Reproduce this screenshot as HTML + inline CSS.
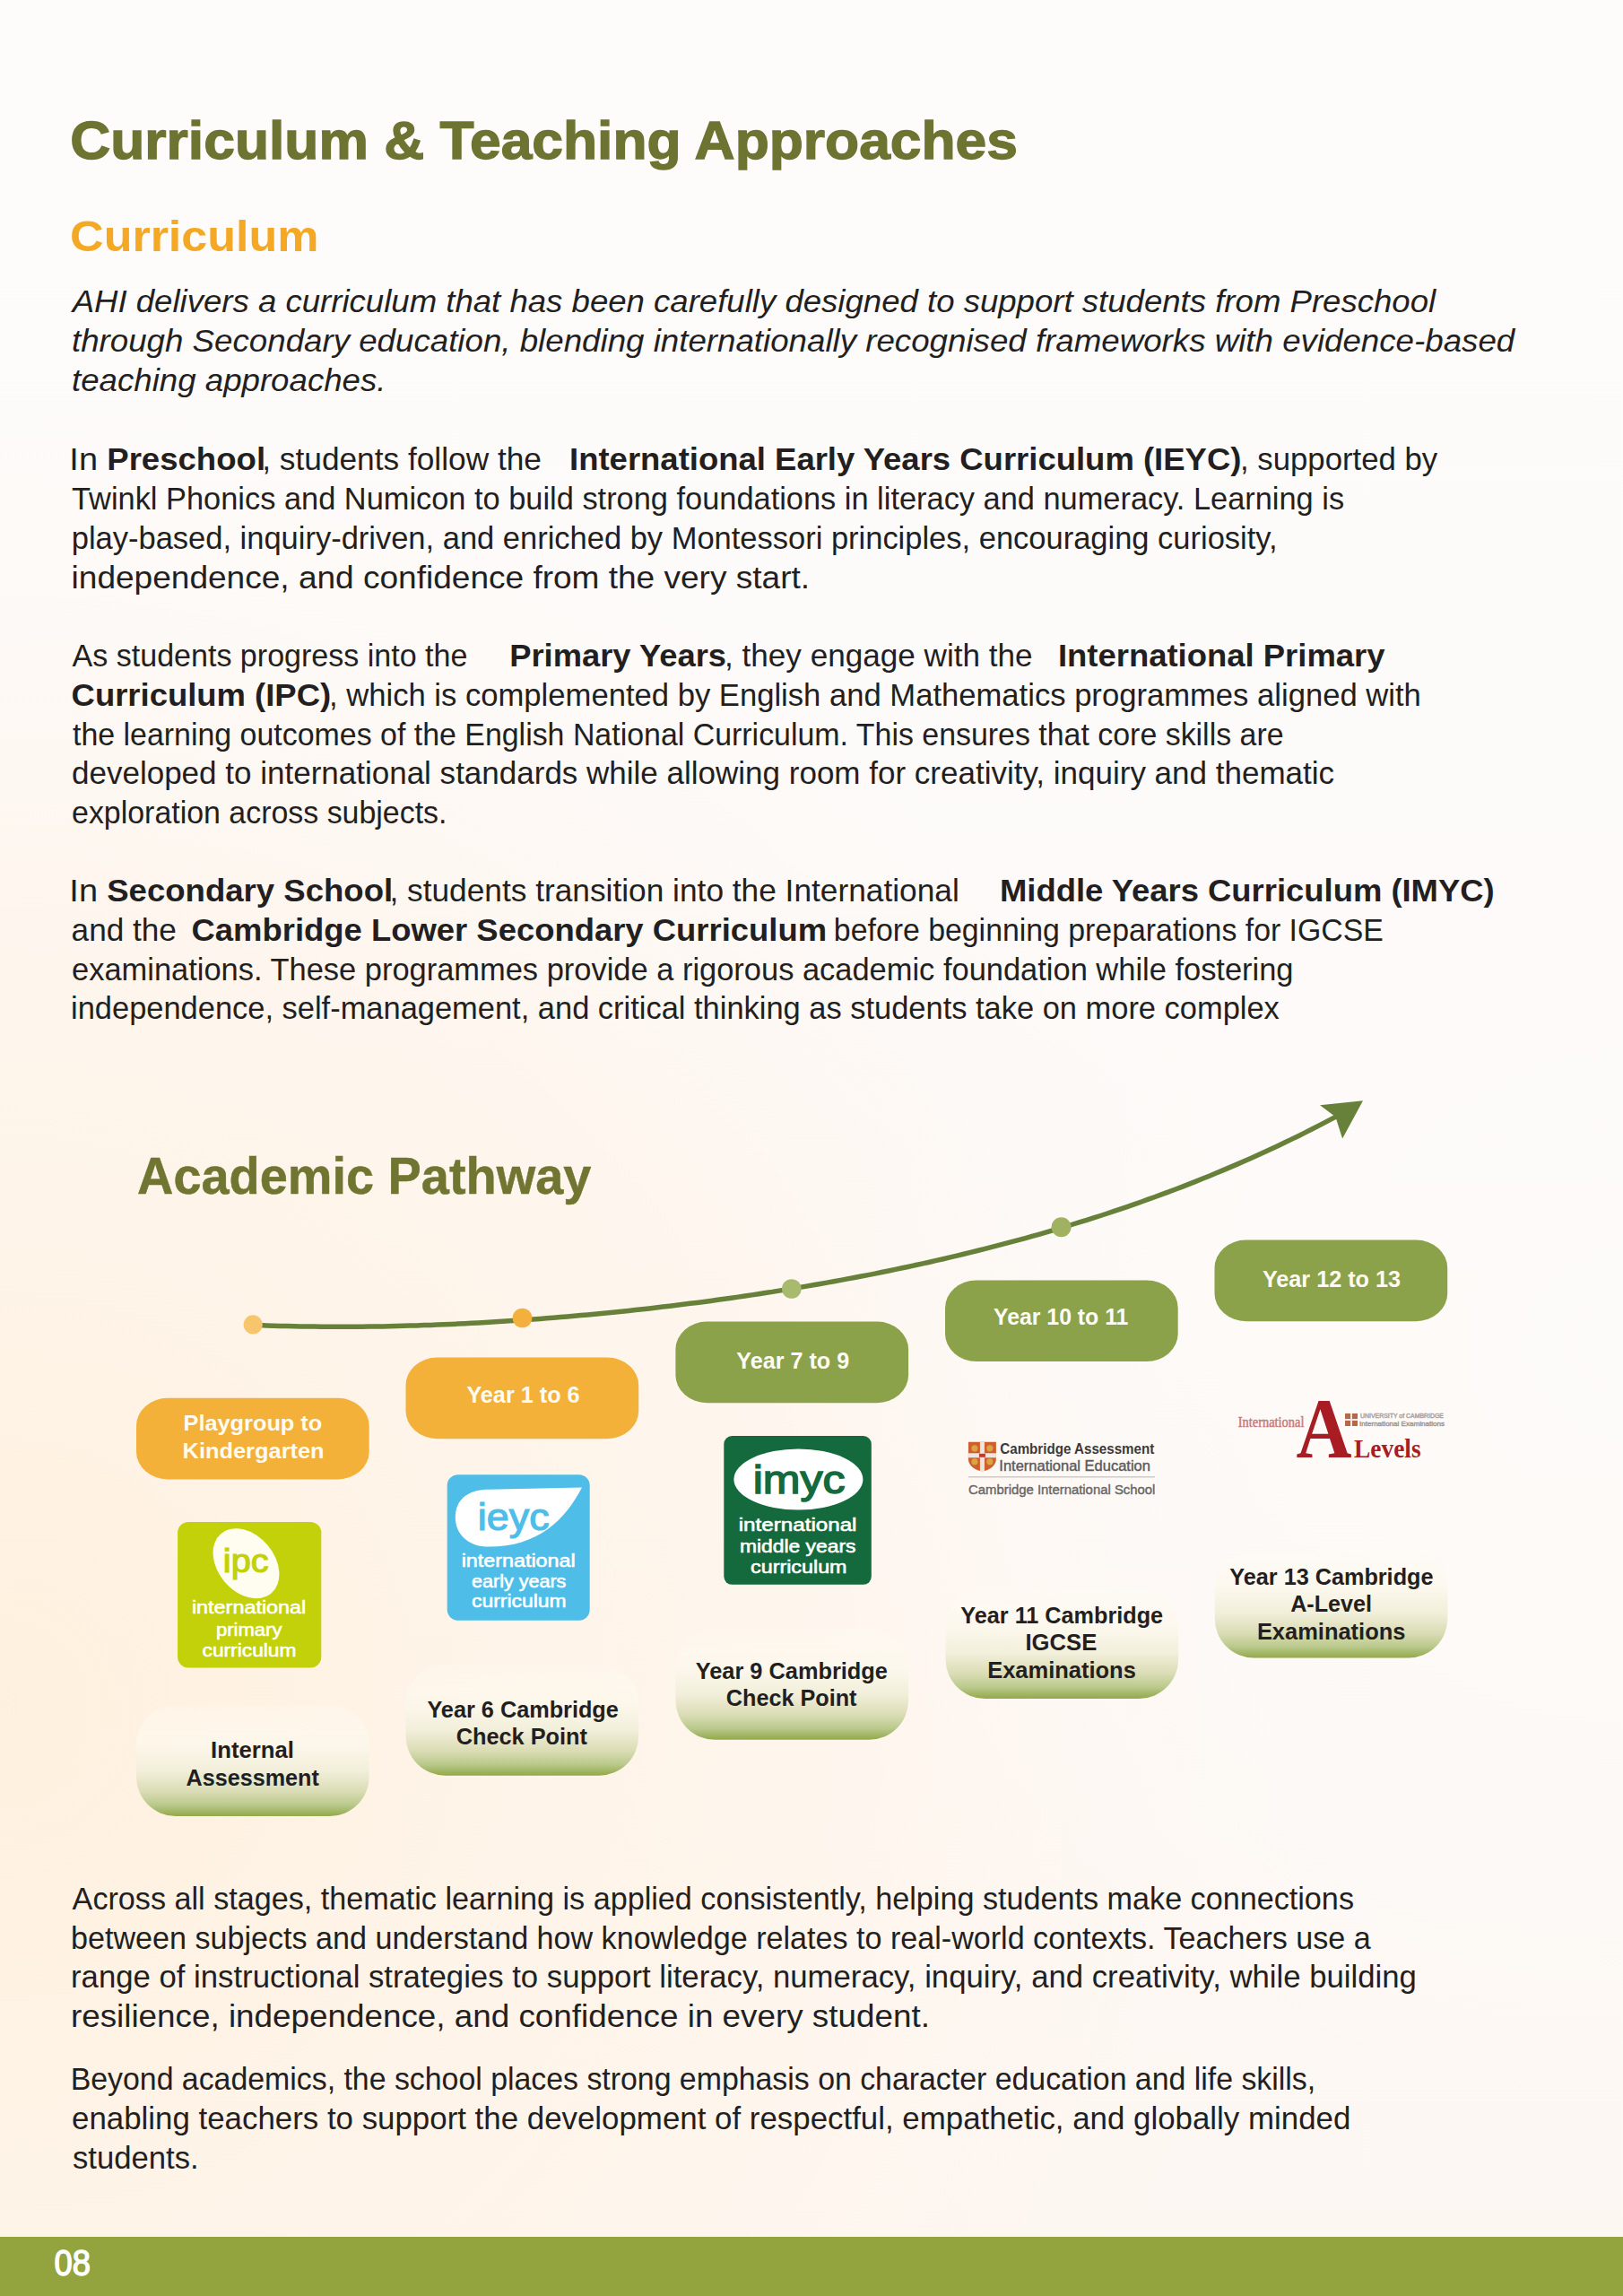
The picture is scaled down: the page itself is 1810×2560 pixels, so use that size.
<!DOCTYPE html>
<html>
<head>
<meta charset="utf-8">
<style>
html,body{margin:0;padding:0;width:1810px;height:2560px;overflow:hidden;}
body{position:relative;font-family:"Liberation Sans",sans-serif;background:#fdf8f4;}
svg{position:absolute;left:0;top:0;}
text{font-family:"Liberation Sans",sans-serif;}
.R{font-size:35px;fill:#231f20;}
.B{font-size:35.5px;font-weight:bold;fill:#231f20;}
.I{font-size:35.5px;font-style:italic;fill:#231f20;}
.H{font-size:35.5px;fill:#231f20;}
.T{font-size:26px;font-weight:bold;fill:#fffbf2;}
.T2{font-size:23.3px;font-weight:bold;fill:#fffbf2;}
.K{font-size:25px;font-weight:bold;fill:#231f20;}
.ttl{font-size:60px;font-weight:bold;fill:#6d7331;stroke:#6d7331;stroke-width:1.3px;}
.sub{font-size:49px;font-weight:bold;fill:#f5a823;}
.ap{font-size:57px;font-weight:bold;fill:#707532;stroke:#707532;stroke-width:0.5px;}
.pgn{font-size:40px;fill:#ffffff;stroke:#ffffff;stroke-width:1.4px;}
.lw{font-size:21px;fill:#ffffff;stroke:#ffffff;stroke-width:0.6px;}
.lipc{font-size:37px;fill:#c2d109;stroke:#c2d109;stroke-width:1.2px;}
.lieyc{font-size:42px;fill:#4ebde8;stroke:#4ebde8;stroke-width:1.2px;}
.limyc{font-size:45px;fill:#156a3d;stroke:#156a3d;stroke-width:1.5px;}
.ca1{font-size:17px;font-weight:bold;fill:#3a3a3a;}
.ca2{font-size:17px;fill:#5a5a5a;stroke:#5a5a5a;stroke-width:0.4px;}
.ca3{font-size:15.5px;fill:#666;stroke:#666;stroke-width:0.4px;}
.aA{font-family:"Liberation Serif",serif;font-size:95px;font-weight:bold;fill:#a81c24;}
.aI{font-family:"Liberation Serif",serif;font-size:17px;fill:#c47a7c;stroke:#c47a7c;stroke-width:0.5px;}
.aL{font-family:"Liberation Serif",serif;font-size:30px;font-weight:bold;fill:#a81c24;}
</style>
</head>
<body>
<svg width="1810" height="2560" viewBox="0 0 1810 2560">
<defs>
  <linearGradient id="pg" x1="0" y1="0" x2="0" y2="1">
    <stop offset="0" stop-color="#fffcf4" stop-opacity="0.2"/>
    <stop offset="0.35" stop-color="#fcf8ec" stop-opacity="0.8"/>
    <stop offset="0.6" stop-color="#f1eed9"/>
    <stop offset="0.78" stop-color="#dadcb4"/>
    <stop offset="0.9" stop-color="#b9c98b"/>
    <stop offset="1" stop-color="#93a84a"/>
  </linearGradient>
  <linearGradient id="bgg" x1="0" y1="0" x2="0" y2="1">
    <stop offset="0" stop-color="#fdfcfb"/>
    <stop offset="0.3" stop-color="#fdfbfa"/>
    <stop offset="0.6" stop-color="#fdf9f7"/>
    <stop offset="1" stop-color="#fdf7f2"/>
  </linearGradient>
  <radialGradient id="peach1" gradientUnits="userSpaceOnUse" cx="0" cy="1900" r="1500">
    <stop offset="0" stop-color="#fff0dd" stop-opacity="0.95"/>
    <stop offset="0.6" stop-color="#fff3e6" stop-opacity="0.55"/>
    <stop offset="1" stop-color="#fef6ef" stop-opacity="0"/>
  </radialGradient>
  <radialGradient id="white1" gradientUnits="userSpaceOnUse" cx="1810" cy="1500" r="900">
    <stop offset="0" stop-color="#fdfbf9" stop-opacity="0.9"/>
    <stop offset="1" stop-color="#fdfbf9" stop-opacity="0"/>
  </radialGradient>
</defs>
<rect x="0" y="0" width="1810" height="2560" fill="url(#bgg)"/>
<rect x="0" y="0" width="1810" height="2560" fill="url(#peach1)"/>
<rect x="0" y="0" width="1810" height="2560" fill="url(#white1)"/>

<!-- Headings -->
<text class="ttl" transform="translate(78.22 177.00) scale(1.0393 1)">Curriculum &amp; Teaching Approaches</text>
<text class="sub" transform="translate(78.08 279.50) scale(1.0615 1)">Curriculum</text>
<text class="ap" transform="translate(153.02 1330.80) scale(0.9806 1)">Academic Pathway</text>

<!-- Body text -->
<text class="R" transform="translate(77.35 524.00) scale(1.0840 1)">In</text>
<text class="R" transform="translate(292.28 524.00) scale(1.0076 1)">, students follow the</text>
<text class="R" transform="translate(1383.02 524.00) scale(0.9927 1)">, supported by</text>
<text class="R" transform="translate(80.00 568.00) scale(0.9823 1)">Twinkl Phonics and Numicon to build strong foundations in literacy and numeracy. Learning is</text>
<text class="R" transform="translate(79.73 612.00) scale(0.9856 1)">play-based, inquiry-driven, and enriched by Montessori principles, encouraging curiosity,</text>
<text class="R" transform="translate(80.60 743.20) scale(0.9725 1)">As students progress into the</text>
<text class="R" transform="translate(807.99 743.20) scale(1.0039 1)">, they engage with the</text>
<text class="R" transform="translate(367.03 786.70) scale(0.9895 1)">, which is complemented by English and Mathematics programmes aligned with</text>
<text class="R" transform="translate(81.00 830.80) scale(0.9689 1)">the learning outcomes of the English National Curriculum. This ensures that core skills are</text>
<text class="R" transform="translate(80.00 874.30) scale(1.0002 1)">developed to international standards while allowing room for creativity, inquiry and thematic</text>
<text class="R" transform="translate(80.03 917.80) scale(0.9693 1)">exploration across subjects.</text>
<text class="R" transform="translate(77.35 1005.30) scale(1.0840 1)">In</text>
<text class="R" transform="translate(434.47 1005.30) scale(1.0084 1)">, students transition into the International</text>
<text class="R" transform="translate(79.59 1048.70) scale(1.0052 1)">and the</text>
<text class="R" transform="translate(929.87 1048.70) scale(0.9671 1)">before beginning preparations for IGCSE</text>
<text class="R" transform="translate(80.02 1092.80) scale(0.9843 1)">examinations. These programmes provide a rigorous academic foundation while fostering</text>
<text class="R" transform="translate(79.03 1136.30) scale(0.9842 1)">independence, self-management, and critical thinking as students take on more complex</text>
<text class="R" transform="translate(80.60 2129.00) scale(0.9765 1)">Across all stages, thematic learning is applied consistently, helping students make connections</text>
<text class="R" transform="translate(79.05 2172.60) scale(0.9749 1)">between subjects and understand how knowledge relates to real-world contexts. Teachers use a</text>
<text class="R" transform="translate(79.02 2216.00) scale(0.9922 1)">range of instructional strategies to support literacy, numeracy, inquiry, and creativity, while building</text>
<text class="R" transform="translate(78.67 2330.40) scale(0.9674 1)">Beyond academics, the school places strong emphasis on character education and life skills,</text>
<text class="R" transform="translate(80.00 2374.40) scale(0.9965 1)">enabling teachers to support the development of respectful, empathetic, and globally minded</text>
<text class="R" transform="translate(81.00 2418.00) scale(0.9906 1)">students.</text>
<text class="B" transform="translate(119.24 524.00) scale(1.0305 1)">Preschool</text>
<text class="B" transform="translate(635.04 524.00) scale(1.0279 1)">International Early Years Curriculum (IEYC)</text>
<text class="B" transform="translate(568.15 743.20) scale(1.0243 1)">Primary Years</text>
<text class="B" transform="translate(1179.95 743.20) scale(1.0273 1)">International Primary</text>
<text class="B" transform="translate(79.57 786.70) scale(1.0271 1)">Curriculum (IPC)</text>
<text class="B" transform="translate(119.17 1005.30) scale(1.0304 1)">Secondary School</text>
<text class="B" transform="translate(1114.95 1005.30) scale(1.0261 1)">Middle Years Curriculum (IMYC)</text>
<text class="B" transform="translate(213.47 1048.70) scale(1.0265 1)">Cambridge Lower Secondary Curriculum</text>
<text class="I" transform="translate(80.66 348.40) scale(1.0306 1)">AHI delivers a curriculum that has been carefully designed to support students from Preschool</text>
<text class="I" transform="translate(79.97 392.00) scale(1.0339 1)">through Secondary education, blending internationally recognised frameworks with evidence-based</text>
<text class="I" transform="translate(79.97 435.70) scale(1.0329 1)">teaching approaches.</text>
<text class="H" transform="translate(79.61 655.70) scale(1.0437 1)">independence, and confidence from the very start.</text>
<text class="H" transform="translate(78.92 2260.00) scale(1.0377 1)">resilience, independence, and confidence in every student.</text>

<!-- curve -->
<path d="M282.0 1477.3 L289.6 1477.6 L297.2 1477.9 L304.9 1478.2 L312.5 1478.4 L320.1 1478.6 L327.7 1478.8 L335.4 1478.9 L343.0 1479.0 L350.6 1479.1 L358.2 1479.2 L365.8 1479.3 L373.5 1479.3 L381.1 1479.3 L388.7 1479.3 L396.3 1479.2 L404.0 1479.2 L411.6 1479.1 L419.2 1479.0 L426.8 1478.9 L434.5 1478.7 L442.1 1478.5 L449.7 1478.3 L457.3 1478.1 L464.9 1477.9 L472.6 1477.6 L480.2 1477.4 L487.8 1477.1 L495.4 1476.8 L503.1 1476.4 L510.7 1476.1 L518.3 1475.7 L525.9 1475.3 L533.5 1474.9 L541.2 1474.5 L548.8 1474.1 L556.4 1473.6 L564.0 1473.1 L571.7 1472.6 L579.3 1472.1 L586.9 1471.6 L594.5 1471.0 L602.2 1470.4 L609.8 1469.8 L617.4 1469.2 L625.0 1468.6 L632.6 1468.0 L640.3 1467.3 L647.9 1466.6 L655.5 1465.9 L663.1 1465.2 L670.8 1464.5 L678.4 1463.7 L686.0 1463.0 L693.6 1462.2 L701.2 1461.4 L708.9 1460.5 L716.5 1459.7 L724.1 1458.9 L731.7 1458.0 L739.4 1457.1 L747.0 1456.2 L754.6 1455.3 L762.2 1454.3 L769.8 1453.3 L777.5 1452.4 L785.1 1451.4 L792.7 1450.4 L800.3 1449.3 L808.0 1448.3 L815.6 1447.2 L823.2 1446.1 L830.8 1445.0 L838.5 1443.9 L846.1 1442.7 L853.7 1441.5 L861.3 1440.4 L868.9 1439.1 L876.6 1437.9 L884.2 1436.7 L891.8 1435.4 L899.4 1434.1 L907.1 1432.8 L914.7 1431.5 L922.3 1430.1 L929.9 1428.8 L937.5 1427.4 L945.2 1425.9 L952.8 1424.5 L960.4 1423.0 L968.0 1421.6 L975.7 1420.1 L983.3 1418.5 L990.9 1417.0 L998.5 1415.4 L1006.2 1413.8 L1013.8 1412.2 L1021.4 1410.5 L1029.0 1408.9 L1036.6 1407.2 L1044.3 1405.4 L1051.9 1403.7 L1059.5 1401.9 L1067.1 1400.1 L1074.8 1398.3 L1082.4 1396.4 L1090.0 1394.5 L1097.6 1392.6 L1105.2 1390.7 L1112.9 1388.7 L1120.5 1386.7 L1128.1 1384.7 L1135.7 1382.6 L1143.4 1380.6 L1151.0 1378.4 L1158.6 1376.3 L1166.2 1374.1 L1173.8 1371.9 L1181.5 1369.6 L1189.1 1367.4 L1196.7 1365.0 L1204.3 1362.7 L1212.0 1360.3 L1219.6 1357.9 L1227.2 1355.5 L1234.8 1353.0 L1242.5 1350.4 L1250.1 1347.9 L1257.7 1345.3 L1265.3 1342.6 L1272.9 1340.0 L1280.6 1337.2 L1288.2 1334.5 L1295.8 1331.7 L1303.4 1328.9 L1311.1 1326.0 L1318.7 1323.1 L1326.3 1320.1 L1333.9 1317.1 L1341.5 1314.0 L1349.2 1311.0 L1356.8 1307.8 L1364.4 1304.6 L1372.0 1301.4 L1379.7 1298.1 L1387.3 1294.8 L1394.9 1291.4 L1402.5 1288.0 L1410.2 1284.5 L1417.8 1281.0 L1425.4 1277.4 L1433.0 1273.8 L1440.6 1270.1 L1448.3 1266.4 L1455.9 1262.6 L1463.5 1258.8 L1471.1 1254.9 L1478.8 1250.9 L1486.4 1246.9 L1494.0 1242.9" fill="none" stroke="#68813a" stroke-width="5.5" stroke-linecap="round"/>
<polygon points="1520,1227.2 1472,1232.3 1489.4,1245.3 1497.1,1269.4" fill="#68813a"/>
<circle cx="282.2" cy="1476.9" r="10.6" fill="#f7c66c"/>
<circle cx="582.5" cy="1469.5" r="10.8" fill="#f4b03c"/>
<circle cx="882.8" cy="1437" r="10.8" fill="#a8ba6e"/>
<circle cx="1183.6" cy="1368.2" r="11" fill="#a0b262"/>

<!-- top pills -->
<rect x="152" y="1558.8" width="259.7" height="90.6" rx="35" ry="31" fill="#f3b13a"/>
<rect x="452.5" y="1513.6" width="259.7" height="90.6" rx="35" ry="31" fill="#f3b13a"/>
<rect x="753.4" y="1473.6" width="259.7" height="90.6" rx="35" ry="31" fill="#8ba24b"/>
<rect x="1054" y="1427.4" width="259.7" height="90.6" rx="35" ry="31" fill="#8ba24b"/>
<rect x="1354.5" y="1382.6" width="259.7" height="90.6" rx="35" ry="31" fill="#8ba24b"/>

<!-- bottom pills -->
<rect x="152" y="1901" width="259.7" height="124" rx="44" fill="url(#pg)"/>
<rect x="452.5" y="1855.7" width="259.7" height="124" rx="44" fill="url(#pg)"/>
<rect x="753.4" y="1815.8" width="259.7" height="124" rx="44" fill="url(#pg)"/>
<rect x="1054.5" y="1770" width="259.7" height="124" rx="44" fill="url(#pg)"/>
<rect x="1354.7" y="1724.6" width="259.7" height="124" rx="44" fill="url(#pg)"/>

<text class="T" transform="translate(520.40 1564.40) scale(0.9706 1)">Year 1 to 6</text>
<text class="T" transform="translate(821.30 1526.00) scale(0.9682 1)">Year 7 to 9</text>
<text class="T" transform="translate(1108.00 1477.20) scale(0.9554 1)">Year 10 to 11</text>
<text class="T" transform="translate(1407.90 1435.40) scale(0.9695 1)">Year 12 to 13</text>
<text class="T2" transform="translate(204.51 1595.20) scale(1.0868 1)">Playgroup to</text>
<text class="T2" transform="translate(203.61 1626.00) scale(1.0900 1)">Kindergarten</text>
<text class="K" transform="translate(235.07 1960.10) scale(1.0289 1)">Internal</text>
<text class="K" transform="translate(207.60 1990.50) scale(1.0069 1)">Assessment</text>
<text class="K" transform="translate(476.40 1915.00) scale(1.0113 1)">Year 6 Cambridge</text>
<text class="K" transform="translate(508.69 1945.40) scale(1.0129 1)">Check Point</text>
<text class="K" transform="translate(775.70 1871.90) scale(1.0151 1)">Year 9 Cambridge</text>
<text class="K" transform="translate(809.79 1902.30) scale(1.0087 1)">Check Point</text>
<text class="K" transform="translate(1071.30 1810.40) scale(1.0097 1)">Year 11 Cambridge</text>
<text class="K" transform="translate(1143.47 1840.40) scale(1.0260 1)">IGCSE</text>
<text class="K" transform="translate(1101.18 1871.10) scale(1.0196 1)">Examinations</text>
<text class="K" transform="translate(1371.30 1766.80) scale(1.0097 1)">Year 13 Cambridge</text>
<text class="K" transform="translate(1439.20 1797.20) scale(1.0049 1)">A-Level</text>
<text class="K" transform="translate(1401.88 1827.60) scale(1.0190 1)">Examinations</text>

<!-- logos -->
<rect x="198.1" y="1697" width="160.2" height="162.4" rx="12" fill="#c2d109"/>
<ellipse cx="274.5" cy="1743.2" rx="43.5" ry="31.5" transform="rotate(50 274.5 1743.2)" fill="#fffdf0"/>
<rect x="498.7" y="1644.3" width="159" height="162.4" rx="12" fill="#4ebde8"/>
<path d="M649,1658.5 C630,1695 600,1724.6 545,1724.6 C522,1724.6 507.8,1710 507.8,1692 C507.8,1672 522,1660.8 545,1660.8 Z" fill="#ffffff"/>
<rect x="807.3" y="1601" width="164.5" height="165.8" rx="9" fill="#156a3d"/>
<ellipse cx="890.4" cy="1649.5" rx="72" ry="34" fill="#ffffff"/>
<!-- cambridge shield -->
<g transform="translate(1079.9 1607.8)">
  <path d="M0,0 H31 V19 C31,27 22,32.5 15.5,32.5 C9,32.5 0,27 0,19 Z" fill="#cf5f2e"/>
  <circle cx="7" cy="7" r="3.6" fill="#dba443"/>
  <circle cx="24" cy="7" r="3.6" fill="#dba443"/>
  <circle cx="7" cy="22" r="3.6" fill="#dba443"/>
  <circle cx="24" cy="22" r="3.6" fill="#dba443"/>
  <rect x="13" y="0" width="5" height="32.5" fill="#efe6e2"/>
  <rect x="0" y="12.5" width="31" height="5" fill="#efe6e2"/>
  <rect x="12" y="13" width="7" height="4" fill="#c0392b"/>
</g>
<rect x="1080" y="1646.2" width="208" height="1.2" fill="#c4c0bd"/>
<!-- a levels crest & small lines -->
<rect x="1500" y="1576" width="14" height="14" fill="#b46a4a"/>
<rect x="1506" y="1576" width="2" height="14" fill="#f2e6e0"/>
<rect x="1500" y="1582" width="14" height="2" fill="#f2e6e0"/>
<text x="1517" y="1581" font-size="7px" fill="#a9a1a1" stroke="#a9a1a1" stroke-width="0.4" textLength="93" lengthAdjust="spacingAndGlyphs">UNIVERSITY of CAMBRIDGE</text>
<text x="1516" y="1589.5" font-size="7.5px" fill="#9d9797" stroke="#9d9797" stroke-width="0.4" textLength="95" lengthAdjust="spacingAndGlyphs">International Examinations</text>

<text class="lw" transform="translate(213.89 1799.00) scale(1.1140 1)">international</text>
<text class="lw" transform="translate(240.95 1823.50) scale(1.0503 1)">primary</text>
<text class="lw" transform="translate(225.50 1847.00) scale(1.0845 1)">curriculum</text>
<text class="lw" transform="translate(514.69 1747.40) scale(1.1104 1)">international</text>
<text class="lw" transform="translate(526.00 1769.70) scale(1.0274 1)">early years</text>
<text class="lw" transform="translate(526.00 1792.00) scale(1.0897 1)">curriculum</text>
<text class="lw" transform="translate(823.75 1707.00) scale(1.1521 1)">international</text>
<text class="lw" transform="translate(824.91 1730.50) scale(1.0889 1)">middle years</text>
<text class="lw" transform="translate(837.00 1753.50) scale(1.1105 1)">curriculum</text>
<text class="lipc" transform="translate(248.86 1753.40) scale(1.0715 1)">ipc</text>
<text class="lieyc" transform="translate(532.87 1705.80) scale(1.0671 1)">ieyc</text>
<text class="limyc" transform="translate(839.66 1665.00) scale(1.1126 1)">imyc</text>
<text class="ca1" transform="translate(1115.30 1621.00) scale(0.8911 1)">Cambridge Assessment</text>
<text class="ca2" transform="translate(1114.33 1639.60) scale(0.9702 1)">International Education</text>
<text class="ca3" transform="translate(1080.00 1665.80) scale(0.9599 1)">Cambridge International School</text>
<text class="aA" transform="translate(1445.50 1624.70) scale(0.9044 1)">A</text>
<text class="aI" transform="translate(1380.80 1590.80) scale(0.8482 1)">International</text>
<text class="aL" transform="translate(1510.00 1624.70) scale(0.9139 1)">Levels</text>

<!-- footer -->
<rect x="0" y="2494" width="1810" height="66" fill="#93a33d"/>
<text class="pgn" transform="translate(60.49 2537.30) scale(0.9090 1)">08</text>
</svg>
</body>
</html>
